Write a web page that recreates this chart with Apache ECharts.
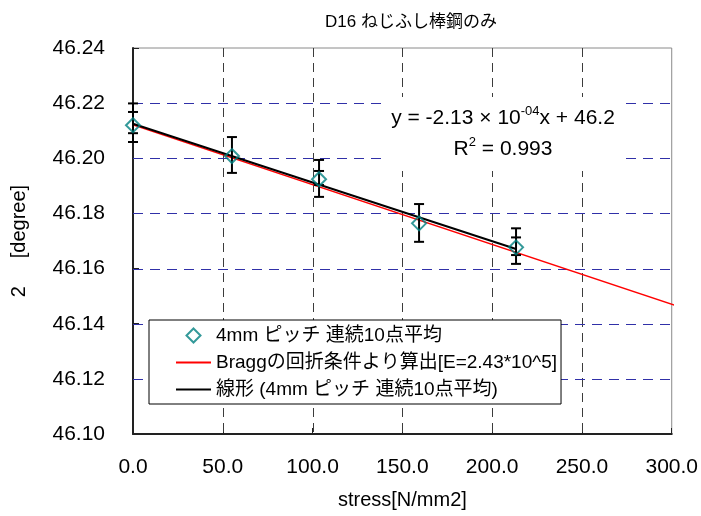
<!DOCTYPE html>
<html>
<head>
<meta charset="utf-8">
<script src="https://cdn.jsdelivr.net/npm/echarts@6/dist/echarts.min.js"></script>
<style>
html, body { margin: 0; padding: 0; background: #fff; }
#chart { width: 701px; height: 516px; }
</style>
</head>
<body>
<div id="chart"></div>
<script>
var stress = [0, 55.1, 103.6, 159.3, 213.3];
var twoTheta = [46.2120, 46.2008, 46.1924, 46.1764, 46.1677];
var errHigh = [46.2199, 46.2077, 46.1994, 46.1834, 46.1746];
var errLow = [46.2059, 46.1947, 46.1860, 46.1697, 46.1617];
var errInnerHigh = [46.2168, null, 46.1954, null, 46.1713];
var errInnerLow = [46.2091, null, 46.1903, null, 46.1649];

// Bragg line and linear fit, end points
var braggStress = [-3, 305];
var braggTheta = [46.2128, 46.1460];
var fitStress = [0, 213.3];
var fitTheta = [46.2125, 46.1671];

// axis range and inner grid lines
var xMin = 0, xMax = 300, xStep = 50;
var yMin = 46.10, yMax = 46.24, yStep = 0.02;
var xGridTicks = [50, 100, 150, 200, 250];
var yGridTicks = [46.12, 46.14, 46.16, 46.18, 46.20, 46.22];

var seriesNames = ['4mm ピッチ 連続10点平均', 'Braggの回折条件より算出[E=2.43*10^5]', '線形 (4mm ピッチ 連続10点平均)'];
var titleText = 'D16 ねじふし棒鋼のみ';
var xName = 'stress[N/mm2]';
var yName = '2     [degree]';

var FONT = "'Liberation Sans', 'Noto Sans CJK JP', sans-serif";
var NONE = 'rgba(0,0,0,0)';

function zip(a, b) {
    var out = [];
    for (var i = 0; i < a.length; i++) out.push([a[i], b[i]]);
    return out;
}

function errData(hi, lo) {
    var out = [];
    for (var i = 0; i < stress.length; i++) {
        if (hi[i] == null) continue;
        out.push([stress[i], lo[i], hi[i]]);
    }
    return out;
}

function errBar(withStem) {
    return function (params, api) {
        var x = api.value(0);
        var lo = api.coord([x, api.value(1)]);
        var hi = api.coord([x, api.value(2)]);
        var w = 5;
        var st = { stroke: '#000', lineWidth: 2 };
        var kids = [
            { type: 'line', shape: { x1: hi[0] - w, y1: hi[1], x2: hi[0] + w, y2: hi[1] }, style: st },
            { type: 'line', shape: { x1: lo[0] - w, y1: lo[1], x2: lo[0] + w, y2: lo[1] }, style: st }
        ];
        if (withStem) kids.push({ type: 'line', shape: { x1: hi[0], y1: hi[1], x2: lo[0], y2: lo[1] }, style: st });
        return { type: 'group', children: kids };
    };
}

// dashed grid lines, snapped to whole pixels so the colour stays crisp
function gridLine(vertical) {
    return function (params, api) {
        var cs = params.coordSys;
        var p = api.coord([api.value(0), api.value(1)]);
        var shape;
        if (vertical) {
            var x = Math.round(p[0]) + 0.5;
            shape = { x1: x, y1: cs.y, x2: x, y2: cs.y + cs.height };
        } else {
            var y = Math.round(p[1]) + 0.5;
            shape = { x1: cs.x, y1: y, x2: cs.x + cs.width, y2: y };
        }
        return {
            type: 'line', shape: shape,
            style: vertical ? { stroke: '#3c3c3c', lineWidth: 1, lineDash: [9, 6] }
                            : { stroke: '#3030a8', lineWidth: 1, lineDash: [10, 7] }
        };
    };
}

var chart = echarts.init(document.getElementById('chart'));
chart.setOption({
    animation: false,
    textStyle: { fontFamily: FONT },
    title: {
        text: titleText, left: 320, top: 9,
        textStyle: { fontFamily: FONT, fontSize: 17, fontWeight: 'normal', color: '#000' }
    },
    grid: { left: 133, top: 48, width: 544, height: 386, show: true, borderColor: '#8a8a8a', borderWidth: 1, backgroundColor: NONE },
    legend: {
        orient: 'vertical', left: 149, top: 320,
        padding: [6, 4, 5, 26], itemGap: 8, itemWidth: 35, itemHeight: 14,
        backgroundColor: '#fff', borderColor: '#000', borderWidth: 1,
        textStyle: { fontFamily: FONT, fontSize: 19, color: '#000' },
        data: [
            { name: seriesNames[0], icon: 'path://M0,0 M35,14 M17.5,0 L24.5,7 L17.5,14 L10.5,7 Z' },
            { name: seriesNames[1], itemStyle: { opacity: 0 } },
            { name: seriesNames[2], itemStyle: { opacity: 0 } }
        ]
    },
    xAxis: {
        type: 'value', min: xMin, max: xMax, interval: xStep,
        name: xName, nameLocation: 'middle', nameGap: 56,
        nameTextStyle: { fontFamily: FONT, fontSize: 20, color: '#000' },
        axisLine: { lineStyle: { color: '#222', width: 2 } },
        axisTick: { inside: true, length: 6, lineStyle: { color: '#222' } },
        axisLabel: { margin: 23, fontSize: 21, color: '#000', fontFamily: FONT, formatter: function (v) { return v.toFixed(1); } },
        splitLine: { show: false }
    },
    yAxis: {
        type: 'value', min: yMin, max: yMax, interval: yStep,
        name: yName, nameLocation: 'middle', nameGap: 104, nameRotate: 90,
        nameTextStyle: { fontFamily: FONT, fontSize: 20, color: '#000' },
        axisLine: { show: true, lineStyle: { color: '#222', width: 2 } },
        axisTick: { show: true, inside: true, length: 6, lineStyle: { color: '#222' } },
        axisLabel: { margin: 28, fontSize: 21, color: '#000', fontFamily: FONT, formatter: function (v) { return v.toFixed(2); } },
        splitLine: { show: false }
    },
    graphic: [{
        type: 'text', x: 503, y: 134, z: 10,
        style: {
            text: '{a|y = -2.13 × 10}{s|-04}{a|x + 46.2}\n{a|R}{s|2}{a| = 0.993}',
            align: 'center', verticalAlign: 'middle',
            backgroundColor: '#fff', padding: [6, 5],
            rich: {
                a: { fontFamily: FONT, fontSize: 21, color: '#000', lineHeight: 31 },
                s: { fontFamily: FONT, fontSize: 13, color: '#000', lineHeight: 13, padding: [0, 0, 15, 0] }
            }
        }
    }],
    series: [{
        type: 'custom', data: xGridTicks.map(function (v) { return [v, yMin]; }),
        renderItem: gridLine(true), encode: { x: 0, y: 1 }, z: 1, silent: true
    }, {
        type: 'custom', data: yGridTicks.map(function (v) { return [xMin, v]; }),
        renderItem: gridLine(false), encode: { x: 0, y: 1 }, z: 1, silent: true
    }, {
        name: seriesNames[1], type: 'line', data: zip(braggStress, braggTheta),
        symbol: 'none', clip: false, z: 2,
        lineStyle: { color: '#ff0000', width: 1.5 }, itemStyle: { color: '#ff0000' }
    }, {
        name: seriesNames[2], type: 'line', data: zip(fitStress, fitTheta),
        symbol: 'none', z: 3,
        lineStyle: { color: '#000', width: 2 }, itemStyle: { color: '#333' }
    }, {
        type: 'custom', data: errData(errHigh, errLow), renderItem: errBar(true),
        encode: { x: 0, y: [1, 2] }, clip: false, z: 4, silent: true
    }, {
        type: 'custom', data: errData(errInnerHigh, errInnerLow), renderItem: errBar(false),
        encode: { x: 0, y: [1, 2] }, clip: false, z: 4, silent: true
    }, {
        name: seriesNames[0], type: 'scatter', data: zip(stress, twoTheta),
        symbol: 'diamond', symbolSize: 14, clip: false, z: 5,
        itemStyle: { color: NONE, borderColor: '#008080', borderWidth: 2 }
    }]
});
</script>
</body>
</html>
